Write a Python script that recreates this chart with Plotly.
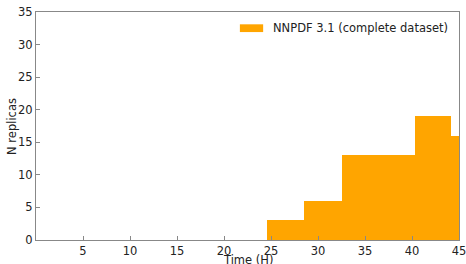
import plotly.graph_objects as go

bin_edges = [24.6, 28.55, 32.5, 36.4, 40.3, 44.2, 48.1]
counts = [3, 6, 13, 13, 19, 16]
series_name = "NNPDF 3.1 (complete dataset)"
x_ticks = [5, 10, 15, 20, 25, 30, 35, 40, 45]
y_ticks = [0, 5, 10, 15, 20, 25, 30, 35]
x_title = "Time (H)"
y_title = "N replicas"

centers = [(a + b) / 2 for a, b in zip(bin_edges[:-1], bin_edges[1:])]
widths = [b - a for a, b in zip(bin_edges[:-1], bin_edges[1:])]

fig = go.Figure()
fig.add_trace(go.Bar(x=centers, y=counts, width=widths, marker=dict(color="#FFA500", line=dict(width=0)),
                     name=series_name, showlegend=False, hoverinfo="skip"))

font = dict(family="DejaVu Sans", size=11.5, color="#222")
axis_common = dict(showgrid=False, zeroline=False, showline=True, linecolor="#888", linewidth=1,
                   mirror=True, ticks="inside", ticklen=4, tickcolor="#888", tickfont=font,
                   automargin=False, ticklabeloverflow="allow")
fig.update_layout(
    width=466, height=264,
    margin=dict(l=36, r=7, t=12, b=24),
    paper_bgcolor="white", plot_bgcolor="white",
    font=font,
    bargap=0,
    xaxis=dict(range=[0, 45], tickvals=x_ticks, **axis_common),
    yaxis=dict(range=[0, 35], tickvals=y_ticks, **axis_common),
)
fig.add_annotation(xref="paper", yref="paper", x=0.5, y=-0.0865, xanchor="center", yanchor="middle",
                   text=x_title, showarrow=False, font=font, borderpad=0)
fig.add_annotation(xref="paper", yref="paper", x=-0.057, y=0.5, xanchor="center", yanchor="middle",
                   text=y_title, showarrow=False, font=font, textangle=-90, borderpad=0)
# manual legend
fig.add_shape(type="rect", xref="paper", yref="paper", x0=0.482, x1=0.537, y0=0.912, y1=0.946,
              fillcolor="#FFA500", line=dict(width=0))
fig.add_annotation(xref="paper", yref="paper", x=0.558, y=0.929, xanchor="left", yanchor="middle",
                   text=series_name, showarrow=False, font=font, borderpad=0)
fig.write_html("out.html", config={"displayModeBar": False},
               post_script="document.body.style.margin='0';document.body.style.overflow='hidden';")
